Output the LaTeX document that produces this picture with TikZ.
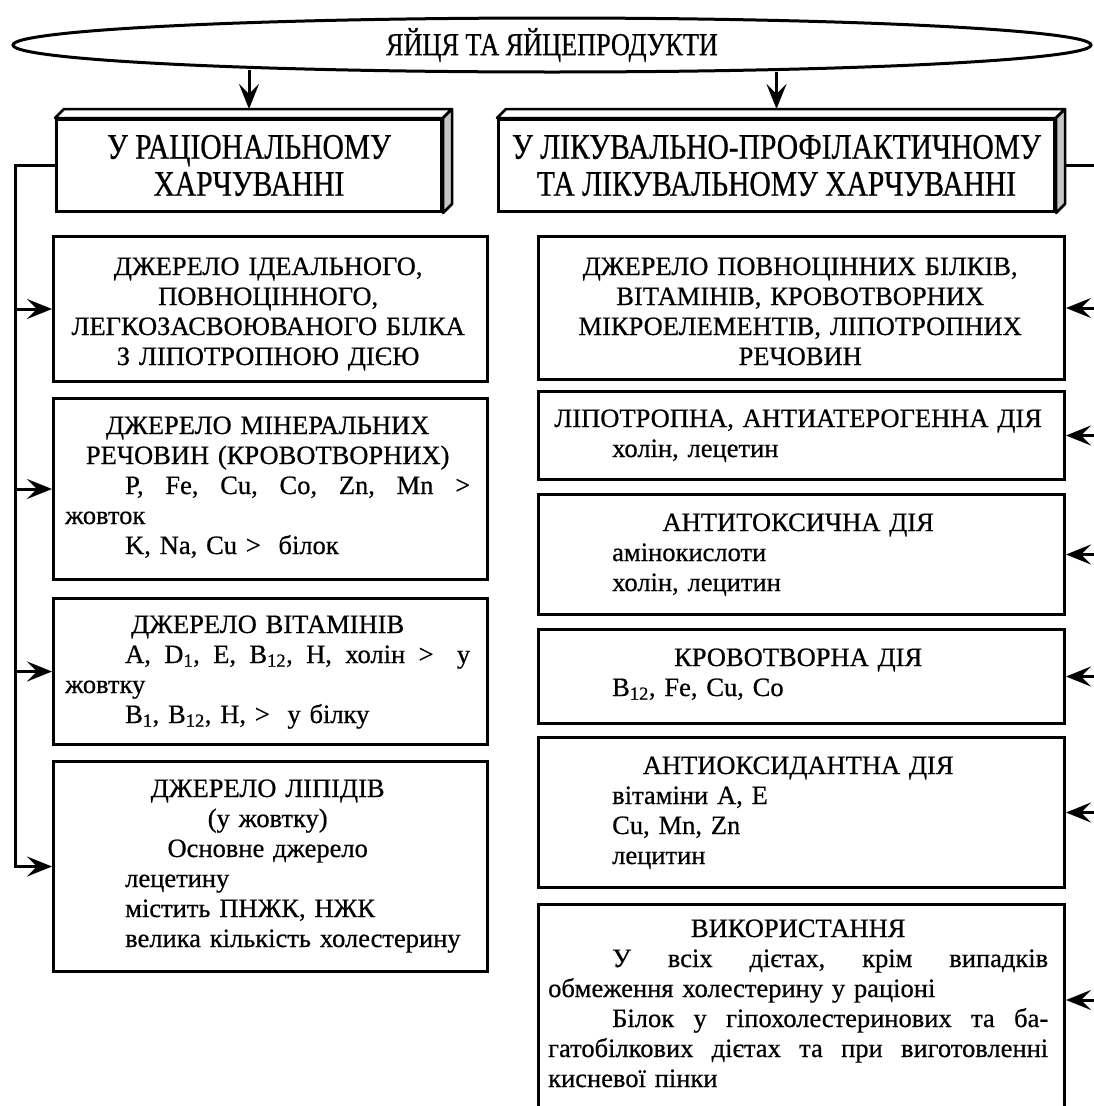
\documentclass[tikz,border=0pt]{standalone}
\usepackage{fontspec}
\setmainfont[FakeBold=0.6]{Liberation Serif}
\newfontfamily\condfont[FakeStretch=0.82,FakeBold=0.6]{Liberation Serif}
\usetikzlibrary{shapes.geometric,arrows.meta,calc}
\newcommand{\bodyfont}{\fontsize{26.5}{30}\selectfont}
\newcommand{\headfont}{\condfont\fontsize{36}{37}\selectfont}
\newcommand{\ellfont}{\condfont\fontsize{32}{36}\selectfont}
\newcommand{\cenline}[1]{\makebox[\linewidth][c]{#1}}
\newcommand{\jusline}[1]{\leavevmode\makebox[\linewidth][l]{#1}}
\tikzset{
  box/.style={draw, line width=3pt, rectangle, inner sep=0pt, anchor=north west},
  hdr/.style={draw, line width=3pt, rectangle, inner sep=0pt, anchor=north west, align=center, font=\headfont},
  txt/.style={inner sep=0pt, anchor=base west, font=\bodyfont, align=left},
  ctxt/.style={inner sep=0pt, anchor=base west, font=\bodyfont, align=center},
  conn/.style={line width=3pt},
  arr/.style={line width=3pt, -{Stealth[length=25pt,width=20pt,inset=10pt]}},
  sideface/.style={draw, line width=2.5pt, fill=gray!45, line join=round},
  topface/.style={draw, line width=2.5pt, fill=white, line join=round},
}
\begin{document}
\begin{tikzpicture}[x=1pt,y=-1pt]
\useasboundingbox (0,0) rectangle (1094,1106);
\clip (0,0) rectangle (1094,1106);
\fill[white] (0,0) rectangle (1094,1106);

% title ellipse
\node[draw, ellipse, line width=3pt, minimum width=1078, minimum height=54, inner sep=0pt, font=\ellfont] (ell) at (552,45) {ЯЙЦЯ ТА ЯЙЦЕПРОДУКТИ};

% header boxes with 3D faces
\node[hdr, minimum width=385, minimum height=92] (hl) at (55,118) {У РАЦІОНАЛЬНОМУ\\ХАРЧУВАННІ};
\node[hdr, minimum width=556, minimum height=92] (hr) at (497,118) {У ЛІКУВАЛЬНО-ПРОФІЛАКТИЧНОМУ\\ТА ЛІКУВАЛЬНОМУ ХАРЧУВАННІ};
\foreach \h in {hl,hr}{
  \draw[topface] (\h.north west) -- ++(9,-9) -- ($(\h.north east)+(9,-9)$) -- (\h.north east) -- cycle;
  \draw[sideface] (\h.north east) -- ++(9,-9) -- ($(\h.south east)+(9,-9)$) -- (\h.south east) -- cycle;
}

% arrows from ellipse
\draw[arr] ($(hl.north |- ell.south)+(0,-4)$) -- ([yshift=9pt]hl.north);
\draw[arr] ($(hr.north |- ell.south)+(0,-2)$) -- ([yshift=9pt]hr.north);

% left column boxes
\node[box, minimum width=434, minimum height=145] (lb1) at (52,235) {};
\node[box, minimum width=434, minimum height=181] (lb2) at (52,397) {};
\node[box, minimum width=434, minimum height=146] (lb3) at (52,597) {};
\node[box, minimum width=434, minimum height=210] (lb4) at (52,760) {};

\node[ctxt, text width=410] (lt1) at (63,275) {ДЖЕРЕЛО ІДЕАЛЬНОГО,\\ПОВНОЦІННОГО,\\ЛЕГКОЗАСВОЮВАНОГО БІЛКА\\З ЛІПОТРОПНОЮ ДІЄЮ};
\node[txt, text width=405] (lt2) at (65,434) {\cenline{ДЖЕРЕЛО МІНЕРАЛЬНИХ}\\
\cenline{РЕЧОВИН (КРОВОТВОРНИХ)}\\
\jusline{\hspace*{60pt}P,\hfill Fe,\hfill Cu,\hfill Co,\hfill Zn,\hfill Mn\hfill >}\\
жовток\\
\hspace*{60pt}K, Na, Cu >\ \ білок};
\node[txt, text width=405] (lt3) at (65,633) {\cenline{ДЖЕРЕЛО ВІТАМІНІВ}\\
\jusline{\hspace*{60pt}A,\hfill D\textsubscript{1},\hfill E,\hfill B\textsubscript{12},\hfill H,\hfill холін\hfill >\hfill\hspace{10pt}у}\\
жовтку\\
\hspace*{60pt}B\textsubscript{1}, B\textsubscript{12}, H, >\ \ у білку};
\node[txt, text width=405] (lt4) at (65,797) {\cenline{ДЖЕРЕЛО ЛІПІДІВ}\\
\cenline{(у жовтку)}\\
\cenline{Основне джерело}\\
\hspace*{60pt}лецетину\\
\hspace*{60pt}містить ПНЖК, НЖК\\
\hspace*{60pt}велика кількість холестерину};

% right column boxes
\node[box, minimum width=526, minimum height=143] (rb1) at (537,235) {};
\node[box, minimum width=526, minimum height=88] (rb2) at (537,390) {};
\node[box, minimum width=526, minimum height=120] (rb3) at (537,493) {};
\node[box, minimum width=526, minimum height=94] (rb4) at (537,628) {};
\node[box, minimum width=526, minimum height=150] (rb5) at (537,736) {};
\node[box, minimum width=526, minimum height=215] (rb6) at (537,903) {};

\node[ctxt, text width=510] (rt1) at (545,275) {ДЖЕРЕЛО ПОВНОЦІННИХ БІЛКІВ,\\ВІТАМІНІВ, КРОВОТВОРНИХ\\МІКРОЕЛЕМЕНТІВ, ЛІПОТРОПНИХ\\РЕЧОВИН};
\node[txt, text width=500] (rt2) at (548,427) {\cenline{ЛІПОТРОПНА, АНТИАТЕРОГЕННА ДІЯ}\\
\hspace*{64pt}холін, лецетин};
\node[txt, text width=500] (rt3) at (548,531) {\cenline{АНТИТОКСИЧНА ДІЯ}\\
\hspace*{64pt}амінокислоти\\
\hspace*{64pt}холін, лецитин};
\node[txt, text width=500] (rt4) at (548,666) {\cenline{КРОВОТВОРНА ДІЯ}\\
\hspace*{64pt}B\textsubscript{12}, Fe, Cu, Co};
\node[txt, text width=500] (rt5) at (548,774) {\cenline{АНТИОКСИДАНТНА ДІЯ}\\
\hspace*{64pt}вітаміни A, E\\
\hspace*{64pt}Cu, Mn, Zn\\
\hspace*{64pt}лецитин};
\node[txt, text width=500] (rt6) at (548,937) {\cenline{ВИКОРИСТАННЯ}\\
\jusline{\hspace*{64pt}У\hfill всіх\hfill дієтах,\hfill крім\hfill випадків}\\
обмеження холестерину у раціоні\\
\jusline{\hspace*{64pt}Білок\hfill у\hfill гіпохолестеринових\hfill та\hfill ба-}\\
\jusline{гатобілкових\hfill дієтах\hfill та\hfill при\hfill виготовленні}\\
кисневої пінки};

% left connector
\coordinate (lv) at (15,0);
\draw[arr] (hl.west) -| (lb4.west -| lv) -- (lb4.west);
\foreach \b in {lb1,lb2,lb3}{
  \draw[arr] (\b.west -| lv) -- (\b.west);
}

% right connector
\coordinate (rv) at (1099,0);
\draw[conn] ($(hr.east)+(9,0)$) -| (rb6.east -| rv);
\foreach \b in {rb1,rb2,rb3,rb4,rb5}{
  \draw[arr] (\b.east -| rv) -- (\b.east);
}
\coordinate (r6) at (1099,1000);
\draw[arr] (r6) -- (r6 -| rb6.east);
\end{tikzpicture}
\end{document}
